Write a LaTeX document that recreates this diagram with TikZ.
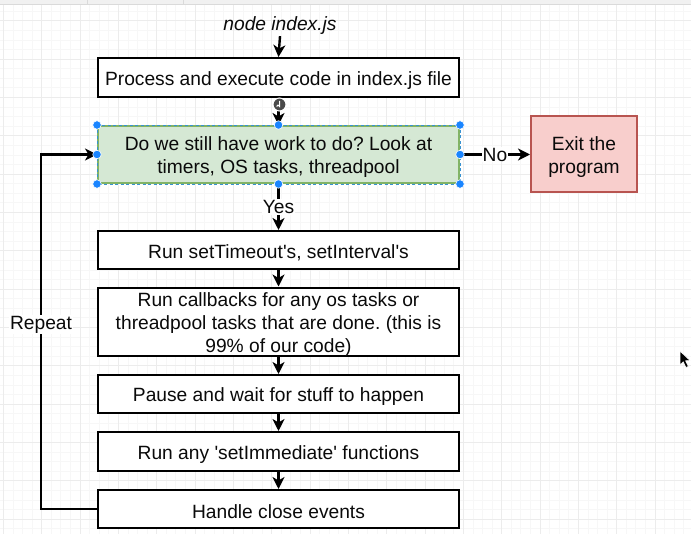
\documentclass[tikz,border=0pt]{standalone}
\usepackage{fontspec}
\setmainfont{Liberation Sans}
\usetikzlibrary{arrows.meta}
\frenchspacing
\newcommand\dropstrut{\rule{0pt}{19pt}}
\definecolor{gfill}{HTML}{D5E8D4}
\definecolor{gline}{HTML}{82B366}
\definecolor{rfill}{HTML}{F8CECC}
\definecolor{rline}{HTML}{B85450}
\definecolor{sel}{HTML}{1A85FF}
\definecolor{gridminor}{HTML}{F7F7F7}
\definecolor{gridmajor}{HTML}{ECECEC}
\definecolor{barfill}{HTML}{F1F1F1}
\definecolor{barline}{HTML}{DADADA}
\definecolor{icon}{HTML}{4A4A4A}
\definecolor{ink}{HTML}{0A0A0A}
\tikzset{
  box/.style={draw=black, line width=2pt, fill=white, inner sep=0pt, align=center,
    minimum width=361pt, text=ink},
  conn/.style={line width=2.4pt, -{Stealth[length=12pt,width=12pt,inset=3.5pt]}},
  lbl/.style={fill=white, inner sep=1pt, text=ink},
  handle/.style={circle, fill=sel, draw=white, line width=0.6pt, inner sep=0pt, minimum size=8.5pt},
}
\begin{document}
\begin{tikzpicture}[x=1pt,y=-1pt, font=\fontsize{19.2}{23}\selectfont]
\useasboundingbox (0,0) rectangle (691,534);
\fill[white] (0,0) rectangle (691,534);
% grid
\foreach \i in {0,...,72} {\draw[gridminor, line width=0.6pt] (3.3+\i*9.583,5) -- (3.3+\i*9.583,534);}
\foreach \i in {0,...,55} {\draw[gridminor, line width=0.6pt] (0,1.5+\i*9.583) -- (691,1.5+\i*9.583);}
\foreach \i in {0,...,18} {\draw[gridmajor, line width=0.8pt] (3.3+\i*38.33,5) -- (3.3+\i*38.33,534);}
\foreach \i in {0,...,13} {\draw[gridmajor, line width=0.8pt] (0,20.7+\i*38.33) -- (691,20.7+\i*38.33);}
% top bar
\fill[barfill] (0,0) rectangle (691,4.5);
\draw[barline, line width=0.8pt] (0,4.5) -- (691,4.5);
\draw[barline, line width=0.8pt] (87,0) -- (87,4.5);
\draw[barline, line width=0.8pt] (183,0) -- (183,4.5);

% nodes
\node[inner sep=1pt, text=ink, font=\fontsize{19.2}{23}\selectfont\itshape] (cmd) at (280,26) {node index.js};
\node[box, minimum height=39pt] (b1) at (278.5,77.5) {\dropstrut Process and execute code in index.js file};
\node[box, fill=gfill, draw=gline, minimum height=57pt] (b2) at (278.5,154.5) {\dropstrut Do we still have work to do? Look at\\timers, OS tasks, threadpool};
\node[box, fill=rfill, draw=rline, minimum width=106pt, minimum height=76pt] (exit) at (584,154.5) {\dropstrut Exit the\\program};
\node[box, minimum height=38pt] (b3) at (278.5,250) {\dropstrut Run setTimeout\textquotesingle s, setInterval\textquotesingle s};
\node[box, minimum height=68pt] (b4) at (278.5,322) {\dropstrut Run callbacks for any os tasks or\\threadpool tasks that are done. (this is\\99\% of our code)};
\node[box, minimum height=38pt] (b5) at (278.5,394) {\dropstrut Pause and wait for stuff to happen};
\node[box, minimum height=39pt] (b6) at (278.5,451.5) {\dropstrut Run any \textquotesingle setImmediate\textquotesingle{} functions};
\node[box, minimum height=38pt] (b7) at (278.5,509) {\dropstrut Handle close events};

% connectors
\draw[conn] (cmd.south) -- (b1.north);
\draw[conn] (b1.south) -- (b2.north);
\draw[conn] (b2.south) -- node[lbl] {Yes} (b3.north);
\draw[conn] (b2.east) -- node[lbl] {No} (exit.west);
\draw[conn] (b3.south) -- (b4.north);
\draw[conn] (b4.south) -- (b5.north);
\draw[conn] (b5.south) -- (b6.north);
\draw[conn] (b6.south) -- (b7.north);
\coordinate (rp) at (41,509);
\draw[conn] (b7.west) -- (rp) |- node[lbl, pos=0.26] {Repeat} (b2.west);

% selection overlay on the green box
\draw[sel!70!gline, line width=0.9pt, dash pattern=on 3pt off 2.5pt] (b2.north west) rectangle (b2.south east);
\foreach \a in {north west,north,north east,west,east,south west,south,south east}
  {\node[handle] at (b2.\a) {};}

% connection hover icon
\node[circle, fill=icon, draw=white, line width=1pt, inner sep=0pt, minimum size=13pt] (ic) at (279.5,104.5) {};
\draw[white, line width=1pt] (279.5,101) -- (279.5,106.5) arc (0:-180:1.4);

% mouse cursor
\filldraw[fill=black, draw=white, line width=0.6pt]
  (680,351) -- (680,365) -- (683.2,361.8) -- (686,367.5) -- (688.3,366.4) -- (685.6,360.8) -- (690,360.5) -- cycle;
\end{tikzpicture}
\end{document}
